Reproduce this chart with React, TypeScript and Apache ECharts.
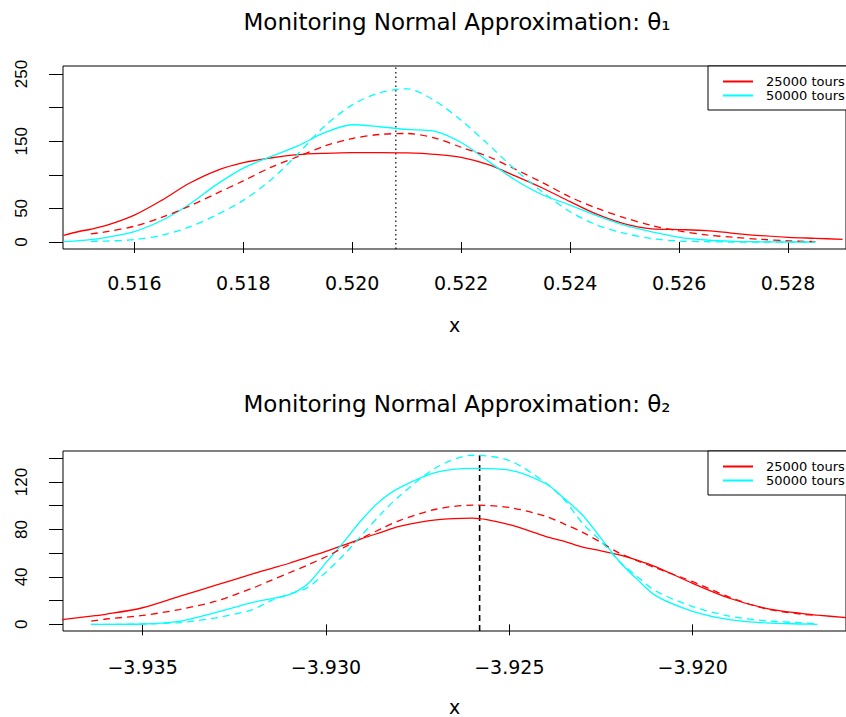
import React, { useEffect, useRef } from "react";
import * as echarts from "echarts";

// ---------- Panel 1 : theta_1 ----------
const THETA1_X = [
  0.5147, 0.515, 0.5152, 0.5155, 0.516, 0.5165, 0.517, 0.5175, 0.518, 0.5185, 0.519,
  0.5195, 0.52, 0.5205, 0.521, 0.5215, 0.522, 0.5225, 0.523, 0.5235, 0.524, 0.5245,
  0.525, 0.5255, 0.526, 0.5265, 0.527, 0.5275, 0.528, 0.5285, 0.529,
];
const THETA1_25K = [
  10, 16, 19, 25, 40, 62, 87, 106, 118, 125, 130, 132, 133, 133, 132.5, 130.5, 126, 115,
  98, 80, 60, 41, 27, 19.5, 18.5, 17, 13, 9.5, 7, 5.5, 4,
];
const THETA1_50K = [
  0.5, 2, 3.5, 7, 15.5, 32, 55.5, 85, 110, 127, 143, 163, 174.5, 171.5, 167.5, 165, 148,
  120, 92, 70, 55, 39, 25, 15, 7, 3, 1, 0.3, 0, 0, null,
];
const THETA1_25K_NORMAL = [
  null, null, 12, 15.5, 23.5, 36.5, 53, 72, 91, 111, 127, 143, 154, 160, 161.5, 155, 141,
  127, 108, 88, 67, 50, 36, 24.5, 16.5, 10.5, 7, 4, 1.8, 0.5, null,
];
const THETA1_50K_NORMAL = [
  null, null, 1, 1.5, 3.5, 10, 22, 40, 62, 92, 131, 173, 204, 222, 228, 211, 181, 145,
  107, 74, 45, 25, 13, 5, 1.5, 0.5, 0, 0, 0, 0, null,
];
const THETA1_MARK = 0.5208;
const THETA1_X_RANGE = [0.51469, 0.529064];
const THETA1_Y_RANGE = [-10.4, 261.9];
const THETA1_X_TICKS = [0.516, 0.518, 0.52, 0.522, 0.524, 0.526, 0.528];
const THETA1_Y_TICKS = [0, 50, 100, 150, 200, 250];
const THETA1_Y_LABELS = [0, 50, 150, 250];

// ---------- Panel 2 : theta_2 ----------
const THETA2_X = [
  -3.9372, -3.9364, -3.936, -3.935, -3.934, -3.933, -3.932, -3.9315, -3.931, -3.9305,
  -3.93, -3.9295, -3.929, -3.9285, -3.928, -3.927, -3.926, -3.925, -3.924, -3.9235,
  -3.923, -3.9225, -3.922, -3.9215, -3.921, -3.92, -3.919, -3.918, -3.917, -3.9166, -3.9158,
];
const THETA2_25K = [
  4, 7, 8.5, 14, 23.5, 33, 42.5, 47, 51.5, 56.5, 61.5, 67, 72.5, 77.5, 82.5, 88, 89.5, 84,
  74, 70, 65, 62, 58.5, 54, 48.5, 34.5, 22, 13.5, 9, 7.8, 5.6,
];
const THETA2_50K = [
  null, 0, 0, 0.3, 2.5, 10, 18.5, 21.5, 25, 34, 52, 70, 89, 104.5, 115, 128, 131.5, 130,
  118.5, 106, 92, 72.5, 53, 37.5, 24, 11, 4, 1.2, 0.3, 0, null,
];
const THETA2_25K_NORMAL = [
  null, 2.8, 4.5, 7.5, 12.5, 19.5, 30.5, 37, 43.5, 50, 57, 65, 73, 80.5, 87.5, 97, 100.5,
  98.5, 91, 84.5, 77.5, 69, 60, 53.5, 47.5, 36, 23, 13, 8.5, 7.5, null,
];
const THETA2_50K_NORMAL = [
  null, 0, 0, 0.3, 1.5, 5.5, 12.5, 20, 25.5, 31, 44, 59, 76, 93, 108, 132, 142.5, 138,
  119, 105, 85, 70, 53, 40, 28, 15, 7, 3, 1.2, 0.3, null,
];
const THETA2_MARK = -3.92581;
const THETA2_X_RANGE = [-3.93717, -3.91582];
const THETA2_Y_RANGE = [-5.6, 146.1];
const THETA2_X_TICKS = [-3.935, -3.93, -3.925, -3.92];
const THETA2_Y_TICKS = [0, 20, 40, 60, 80, 100, 120, 140];
const THETA2_Y_LABELS = [0, 40, 80, 120];

const LEGEND_NAMES = ["25000 tours", "50000 tours"];
const TITLES = [
  "Monitoring Normal Approximation: \u03b8\u2081",
  "Monitoring Normal Approximation: \u03b8\u2082",
];

const RED = "#ff0000";
const CYAN = "#00ffff";
const FONT = "DejaVu Sans";

function pairs(xs: number[], ys: (number | null)[]) {
  const out: number[][] = [];
  xs.forEach((x, i) => {
    const y = ys[i];
    if (y !== null && y !== undefined) out.push([x, y]);
  });
  return out;
}

function lineSeries(name: string, idx: number, data: number[][], color: string, dashed: boolean) {
  return {
    type: "line",
    name,
    xAxisIndex: idx,
    yAxisIndex: idx,
    data,
    symbol: "none",
    showSymbol: false,
    smooth: 0.3,
    silent: true,
    lineStyle: { color, width: 1.3, type: dashed ? [7, 5] : "solid" },
    itemStyle: { color },
    emphasis: { disabled: true },
  };
}

function vLine(name: string, idx: number, x: number, yRange: number[], dash: any, width: number) {
  return {
    type: "line",
    name,
    xAxisIndex: idx,
    yAxisIndex: idx,
    data: [
      [x, yRange[0]],
      [x, yRange[1]],
    ],
    symbol: "none",
    showSymbol: false,
    silent: true,
    lineStyle: { color: "#000", width, type: dash },
    itemStyle: { color: "#000" },
    emphasis: { disabled: true },
    z: 1,
  };
}

function xAxis(idx: number, range: number[], ticks: number[], fmt: (v: number) => string, margin: number, nameGap: number) {
  return {
    type: "value",
    gridIndex: idx,
    min: range[0],
    max: range[1],
    splitLine: { show: false },
    axisLine: { show: false },
    axisTick: { show: true, length: 11, customValues: ticks, lineStyle: { color: "#000", width: 1 } },
    axisLabel: { customValues: ticks, formatter: fmt, margin, fontFamily: FONT, fontSize: 19, color: "#000" },
    name: "x",
    nameLocation: "middle",
    nameGap,
    nameTextStyle: { fontFamily: FONT, fontSize: 19, color: "#000" },
  };
}

function yAxis(idx: number, range: number[], ticks: number[], labels: number[]) {
  return {
    type: "value",
    gridIndex: idx,
    min: range[0],
    max: range[1],
    splitLine: { show: false },
    axisLine: { show: false },
    axisTick: { show: true, length: 14, customValues: ticks, lineStyle: { color: "#000", width: 1 } },
    axisLabel: {
      customValues: labels,
      rotate: 90,
      margin: 33,
      fontFamily: "Liberation Sans",
      fontSize: 17,
      color: "#000",
    },
  };
}

function legend(top: number) {
  return {
    data: LEGEND_NAMES,
    left: 708,
    top,
    orient: "vertical",
    itemWidth: 30,
    itemHeight: 14,
    itemGap: 1,
    padding: [9, 30, 8, 14],
    borderColor: "#000",
    borderWidth: 1,
    borderRadius: 0,
    backgroundColor: "#fff",
    selectedMode: false,
    itemStyle: { opacity: 0 },
    textStyle: { fontFamily: FONT, fontSize: 13, color: "#000", padding: [0, 0, 0, 8] },
  };
}

function title(text: string, y: number) {
  return {
    type: "text",
    x: 457,
    y,
    style: {
      text,
      fontFamily: FONT,
      fontSize: 23,
      fill: "#000",
      align: "center",
      verticalAlign: "middle",
      textAlign: "center",
      textVerticalAlign: "middle",
    },
  };
}

export default function App() {
  const ref = useRef<HTMLDivElement>(null);
  useEffect(() => {
    document.body.style.margin = "0";
    if (!ref.current) return;
    const chart = echarts.init(ref.current, null, { renderer: "svg" });
    const option: any = {
      animation: false,
      backgroundColor: "#fff",
      grid: [
        { left: 63, right: -4, top: 66, height: 183, show: true, borderColor: "#000", borderWidth: 1, backgroundColor: "transparent" },
        { left: 63, right: -4, top: 451, height: 182, show: true, borderColor: "#000", borderWidth: 1, backgroundColor: "transparent" },
      ],
      xAxis: [
        xAxis(0, THETA1_X_RANGE, THETA1_X_TICKS, (v: number) => v.toFixed(3), 24, 66),
        xAxis(1, THETA2_X_RANGE, THETA2_X_TICKS, (v: number) => "\u2212" + Math.abs(v).toFixed(3), 26, 66),
      ],
      yAxis: [
        yAxis(0, THETA1_Y_RANGE, THETA1_Y_TICKS, THETA1_Y_LABELS),
        yAxis(1, THETA2_Y_RANGE, THETA2_Y_TICKS, THETA2_Y_LABELS),
      ],
      legend: [legend(66), legend(451)],
      series: [
        vLine("mean theta1", 0, THETA1_MARK, THETA1_Y_RANGE, [1.5, 3], 1.2),
        lineSeries(LEGEND_NAMES[0], 0, pairs(THETA1_X, THETA1_25K), RED, false),
        lineSeries(LEGEND_NAMES[1], 0, pairs(THETA1_X, THETA1_50K), CYAN, false),
        lineSeries("normal 25000", 0, pairs(THETA1_X, THETA1_25K_NORMAL), RED, true),
        lineSeries("normal 50000", 0, pairs(THETA1_X, THETA1_50K_NORMAL), CYAN, true),
        vLine("mean theta2", 1, THETA2_MARK, THETA2_Y_RANGE, [6, 4], 1.6),
        lineSeries(LEGEND_NAMES[0], 1, pairs(THETA2_X, THETA2_25K), RED, false),
        lineSeries(LEGEND_NAMES[1], 1, pairs(THETA2_X, THETA2_50K), CYAN, false),
        lineSeries("normal 25000", 1, pairs(THETA2_X, THETA2_25K_NORMAL), RED, true),
        lineSeries("normal 50000", 1, pairs(THETA2_X, THETA2_50K_NORMAL), CYAN, true),
      ],
      graphic: [title(TITLES[0], 21.5), title(TITLES[1], 404)],
    };
    chart.setOption(option);
    return () => chart.dispose();
  }, []);
  return <div ref={ref} style={{ width: 846, height: 717 }} />;
}
